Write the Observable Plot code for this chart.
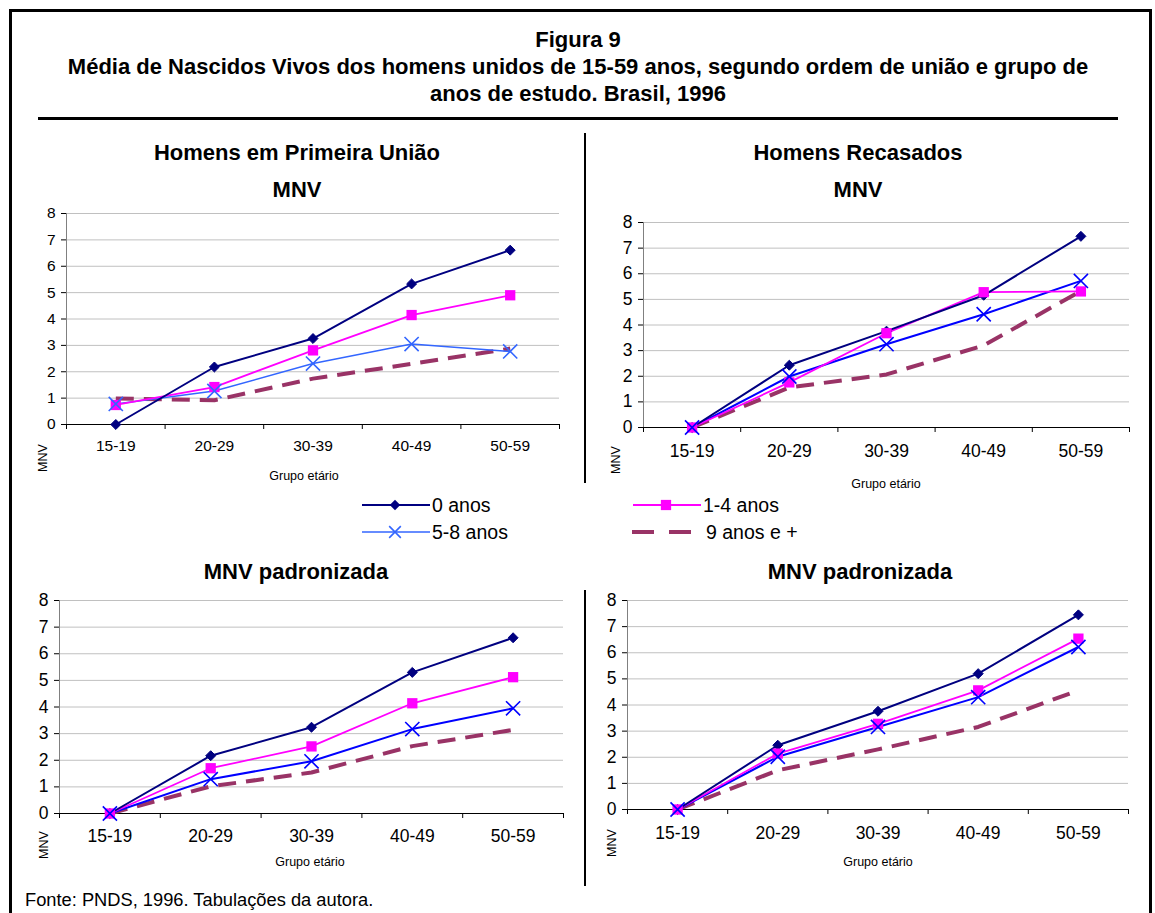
<!DOCTYPE html>
<html>
<head>
<meta charset="utf-8">
<script src="https://cdn.jsdelivr.net/npm/d3@7"></script>
<script src="https://cdn.jsdelivr.net/npm/@observablehq/plot@0.6"></script>
<style>
  html, body { margin: 0; padding: 0; background: #fff; }
  #page { position: relative; width: 1155px; height: 913px; overflow: hidden; font-family: "Liberation Sans", Arial, sans-serif; color: #000; }
  .t { position: absolute; white-space: nowrap; transform: translate(-50%, -50%); line-height: 1; }
  .abs { position: absolute; }
</style>
</head>
<body>
<div id="page"></div>
<script>
// ---------- data ----------
const categories = ["15-19", "20-29", "30-39", "40-49", "50-59"];
const seriesNames = ["0 anos", "1-4 anos", "5-8 anos", "9 anos e +"];
const yTicks = [0, 1, 2, 3, 4, 5, 6, 7, 8];

// Homens em Primeira União — MNV
const firstZero      = [0.00, 2.18, 3.26, 5.33, 6.61];
const firstOneFour   = [0.74, 1.42, 2.81, 4.15, 4.90];
const firstFiveEight = [0.78, 1.27, 2.31, 3.05, 2.77];
const firstNinePlus  = [0.99, 0.92, 1.74, 2.30, 2.88];

// Homens Recasados — MNV
const remZero      = [0.00, 2.43, 3.76, 5.16, 7.46];
const remOneFour   = [0.00, 1.76, 3.68, 5.28, 5.31];
const remFiveEight = [0.00, 1.99, 3.25, 4.42, 5.72];
const remNinePlus  = [0.00, 1.56, 2.07, 3.20, 5.33];

// Homens em Primeira União — MNV padronizada
const firstStdZero      = [0.00, 2.17, 3.24, 5.30, 6.60];
const firstStdOneFour   = [0.00, 1.70, 2.52, 4.14, 5.12];
const firstStdFiveEight = [0.00, 1.29, 1.96, 3.17, 3.95];
const firstStdNinePlus  = [0.00, 1.02, 1.54, 2.53, 3.14];

// Homens Recasados — MNV padronizada
const remStdZero      = [0.00, 2.46, 3.76, 5.20, 7.45];
const remStdOneFour   = [0.00, 2.14, 3.28, 4.56, 6.54];
const remStdFiveEight = [0.00, 2.02, 3.16, 4.30, 6.22];
const remStdNinePlus  = [0.00, 1.50, 2.30, 3.16, 4.56];

// ---------- helpers ----------
const page = document.getElementById("page");
function label(text, cx, cy, css) {
  const d = document.createElement("div");
  d.className = "t";
  d.textContent = text;
  d.style.left = cx + "px";
  d.style.top = cy + "px";
  Object.assign(d.style, css || {});
  page.appendChild(d);
  return d;
}
function box(x, y, w, h) {
  const d = document.createElement("div");
  d.className = "abs";
  Object.assign(d.style, {left: x + "px", top: y + "px", width: w + "px", height: h + "px", background: "#000"});
  page.appendChild(d);
}

function rows(values, series) {
  return values.map((v, i) => ({x: i + 0.5, cat: categories[i], series, v}));
}

const NAVY = "#000080", MAGENTA = "#FF00FF", BLUE = "#0000FF", LIGHTBLUE = "#3366FF", PLUM = "#993366";
const BOLD = {fontSize: "22px", fontWeight: "bold"};

function panel(cfg) {
  const mL = 45, mR = 8, mT = 10, mB = 40;
  const w = cfg.right - cfg.left, h = cfg.bottom - cfg.top;
  const zero = rows(cfg.s[0], seriesNames[0]);
  const one = rows(cfg.s[1], seriesNames[1]);
  const five = rows(cfg.s[2], seriesNames[2]);
  const nine = rows(cfg.s[3], seriesNames[3]);
  const blue = cfg.blue || BLUE;
  const chart = Plot.plot({
    width: w + mL + mR,
    height: h + mT + mB,
    marginLeft: mL, marginRight: mR, marginTop: mT, marginBottom: mB,
    x: {domain: [0, 5], axis: null, label: null},
    y: {domain: [0, 8], axis: null, label: null},
    style: {fontFamily: '"Liberation Sans", Arial, sans-serif', background: "transparent", color: "#000", overflow: "visible"},
    marks: [
      Plot.gridY(yTicks.slice(1), {stroke: "#c0c0c0", strokeOpacity: 1, strokeWidth: 1}),
      Plot.ruleX([0], {stroke: "#808080", strokeWidth: 1}),
      Plot.axisY(yTicks, {label: null, tickSize: 5, tickPadding: 6, fontSize: cfg.fs, stroke: "#000", fill: "#000"}),
      Plot.axisX(d3.range(0, 6), {label: null, tickSize: 5, tickFormat: () => "", stroke: "#000"}),
      Plot.axisX(categories.map((c, i) => i + 0.5), {label: null, tickSize: 0, tickPadding: cfg.pad, fontSize: cfg.fs, fill: "#000",
        tickFormat: d => categories[Math.floor(d)]}),
      Plot.ruleY([0], {stroke: "#000", strokeWidth: 1}),
      Plot.line(nine, {x: "x", y: "v", stroke: PLUM, strokeWidth: 4, strokeDasharray: "18,10", strokeLinecap: "butt"}),
      Plot.line(five, {x: "x", y: "v", stroke: blue, strokeWidth: cfg.blueW || 2}),
      Plot.line(one, {x: "x", y: "v", stroke: MAGENTA, strokeWidth: 1.8}),
      Plot.line(zero, {x: "x", y: "v", stroke: NAVY, strokeWidth: 2}),
      Plot.dot(zero, {x: "x", y: "v", symbol: "diamond2", r: 4.5, fill: NAVY, stroke: NAVY, strokeWidth: 1}),
      Plot.dot(one, {x: "x", y: "v", symbol: "square", r: 5.8, fill: MAGENTA}),
      Plot.dot(five, {x: "x", y: "v", symbol: "times", r: 6.5, stroke: blue, strokeWidth: 1.6})
    ]
  });
  chart.style.position = "absolute";
  chart.style.left = (cfg.left - mL) + "px";
  chart.style.top = (cfg.top - mT) + "px";
  page.appendChild(chart);
  label("Grupo etário", cfg.gx, cfg.gy, {fontSize: "12.5px"});
  label("MNV", cfg.mx, cfg.my, {fontSize: "12.5px", transform: "translate(-50%, -50%) rotate(-90deg)"});
}

// ---------- frame ----------
box(10, 9, 1142, 3);   // top border
box(9, 9, 3, 904);     // left border
box(1149, 9, 3, 904);  // right border
box(38, 117, 1080, 3); // rule under title
box(584, 133, 2, 350); // divider top
box(584, 590, 2, 296); // divider bottom

// ---------- titles ----------
label("Figura 9", 578, 40, BOLD);
label("Média de Nascidos Vivos dos homens unidos de 15-59 anos, segundo ordem de união e grupo de", 578, 67, BOLD);
label("anos de estudo. Brasil, 1996", 578, 94, BOLD);
label("Homens em Primeira União", 297, 153, BOLD);
label("MNV", 297, 190, BOLD);
label("Homens Recasados", 858, 153, BOLD);
label("MNV", 858, 190, BOLD);
label("MNV padronizada", 296, 572, BOLD);
label("MNV padronizada", 860, 572, BOLD);

// ---------- panels ----------
panel({left: 66, right: 559, top: 213, bottom: 424, fs: 15.5, pad: 15,
  s: [firstZero, firstOneFour, firstFiveEight, firstNinePlus], blue: LIGHTBLUE, blueW: 1.5,
  gx: 304, gy: 476, mx: 43, my: 458});
panel({left: 643, right: 1129, top: 222, bottom: 427, fs: 17.5, pad: 17,
  s: [remZero, remOneFour, remFiveEight, remNinePlus],
  gx: 886, gy: 484, mx: 616, my: 460});
panel({left: 59, right: 563, top: 600, bottom: 813, fs: 17.5, pad: 16,
  s: [firstStdZero, firstStdOneFour, firstStdFiveEight, firstStdNinePlus],
  gx: 310, gy: 862, mx: 44, my: 845});
panel({left: 627, right: 1128, top: 600, bottom: 809, fs: 17.5, pad: 17,
  s: [remStdZero, remStdOneFour, remStdFiveEight, remStdNinePlus],
  gx: 878, gy: 862, mx: 612, my: 843});

// ---------- legend ----------
const legendItems = [
  {name: seriesNames[0], x: 362, y: 505, stroke: NAVY, w: 2, dash: null, symbol: d3.symbolDiamond2, size: 70, fill: NAVY},
  {name: seriesNames[1], x: 633, y: 505, stroke: MAGENTA, w: 2, dash: null, symbol: d3.symbolSquare, size: 105, fill: MAGENTA},
  {name: seriesNames[2], x: 362, y: 532, stroke: LIGHTBLUE, w: 1.5, dash: null, symbol: d3.symbolTimes, size: 90, fill: "none"},
  {name: seriesNames[3], x: 632, y: 532, stroke: PLUM, w: 4, dash: "22,15", symbol: null}
];
const lg = d3.create("svg").attr("width", 1155).attr("height", 60)
  .style("position", "absolute").style("left", "0px").style("top", "490px")
  .style("font-family", '"Liberation Sans", Arial, sans-serif');
for (const it of legendItems) {
  const y = it.y - 490;
  const len = it.dash ? 60 : 68;
  lg.append("line").attr("x1", it.x).attr("x2", it.x + len).attr("y1", y).attr("y2", y)
    .attr("stroke", it.stroke).attr("stroke-width", it.w).attr("stroke-dasharray", it.dash);
  if (it.symbol) {
    const p = lg.append("path").attr("d", d3.symbol(it.symbol, it.size)())
      .attr("transform", `translate(${it.x + 33},${y})`);
    if (it.fill === "none") p.attr("fill", "none").attr("stroke", it.stroke).attr("stroke-width", 1.6);
    else p.attr("fill", it.fill);
  }
  lg.append("text").attr("x", it.x + (it.dash ? 74 : 70)).attr("y", y).attr("dy", "0.36em")
    .attr("font-size", 19.5).text(it.name);
}
page.appendChild(lg.node());

label("Fonte: PNDS, 1996. Tabulações da autora.", 0, 900, {fontSize: "18.3px", transform: "translate(0, -50%)", left: "25px"});
</script>
</body>
</html>
